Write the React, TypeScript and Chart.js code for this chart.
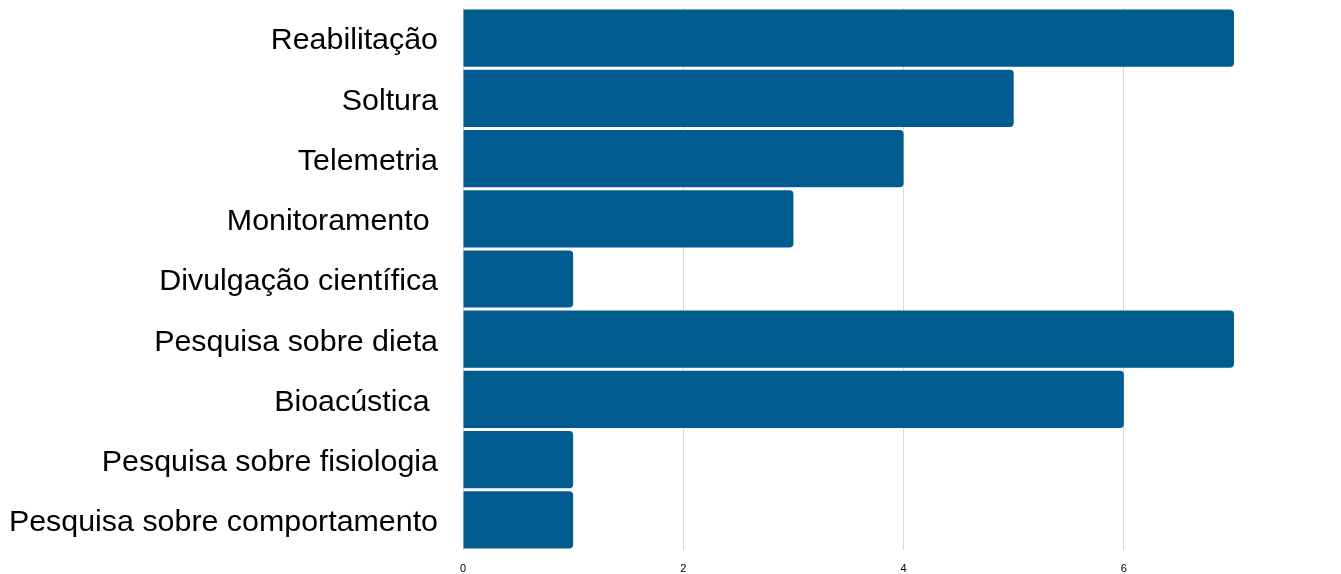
import React, { useEffect, useRef } from "react";
import { Chart, registerables } from "chart.js";

Chart.register(...registerables);

const categories: string[] = [
  "Reabilitação",
  "Soltura",
  "Telemetria",
  "Monitoramento ",
  "Divulgação científica",
  "Pesquisa sobre dieta",
  "Bioacústica ",
  "Pesquisa sobre fisiologia",
  "Pesquisa sobre comportamento",
];
const values: number[] = [7, 5, 4, 3, 1, 7, 6, 1, 1];
const xTicks: number[] = [0, 2, 4, 6];

export default function App() {
  const ref = useRef<HTMLCanvasElement | null>(null);
  useEffect(() => {
    if (!ref.current) return;
    const chart = new Chart(ref.current, {
      type: "bar",
      data: {
        labels: categories,
        datasets: [
          {
            data: values,
            backgroundColor: "#005b8e",
            borderRadius: { topRight: 4, bottomRight: 4, topLeft: 0, bottomLeft: 0 },
            borderSkipped: "start",
            barPercentage: 0.95,
            categoryPercentage: 1,
          },
        ],
      },
      options: {
        indexAxis: "y",
        animation: false,
        responsive: true,
        maintainAspectRatio: false,
        layout: { padding: { top: 8, right: 107, bottom: 0, left: 0 } },
        plugins: { legend: { display: false }, tooltip: { enabled: false } },
        scales: {
          x: {
            min: 0,
            max: 7,
            afterBuildTicks: (s: any) => {
              s.ticks = xTicks.map((v) => ({ value: v }));
            },
            afterFit: (s: any) => {
              s.paddingLeft = 0;
              s.paddingRight = 0;
              s.height = 24;
            },
            ticks: {
              color: "#000",
              font: { family: "'Liberation Sans', Arial, sans-serif", size: 11 },
              padding: 12,
            },
            grid: { color: "#d9d9d9", drawTicks: false },
            border: { display: false },
          },
          y: {
            afterFit: (s: any) => {
              s.width = 463;
              s.paddingTop = 0;
              s.paddingBottom = 0;
            },
            ticks: {
              color: "#000",
              font: { family: "'Liberation Sans', Arial, sans-serif", size: 30.4 },
              padding: 25,
              labelOffset: 3,
            },
            grid: { display: false, drawTicks: false },
            border: { display: false },
          },
        },
      },
    });
    return () => chart.destroy();
  }, []);
  return (
    <div style={{ position: "absolute", left: 0, top: 0, width: 1341, height: 574 }}>
      <canvas ref={ref} />
    </div>
  );
}
